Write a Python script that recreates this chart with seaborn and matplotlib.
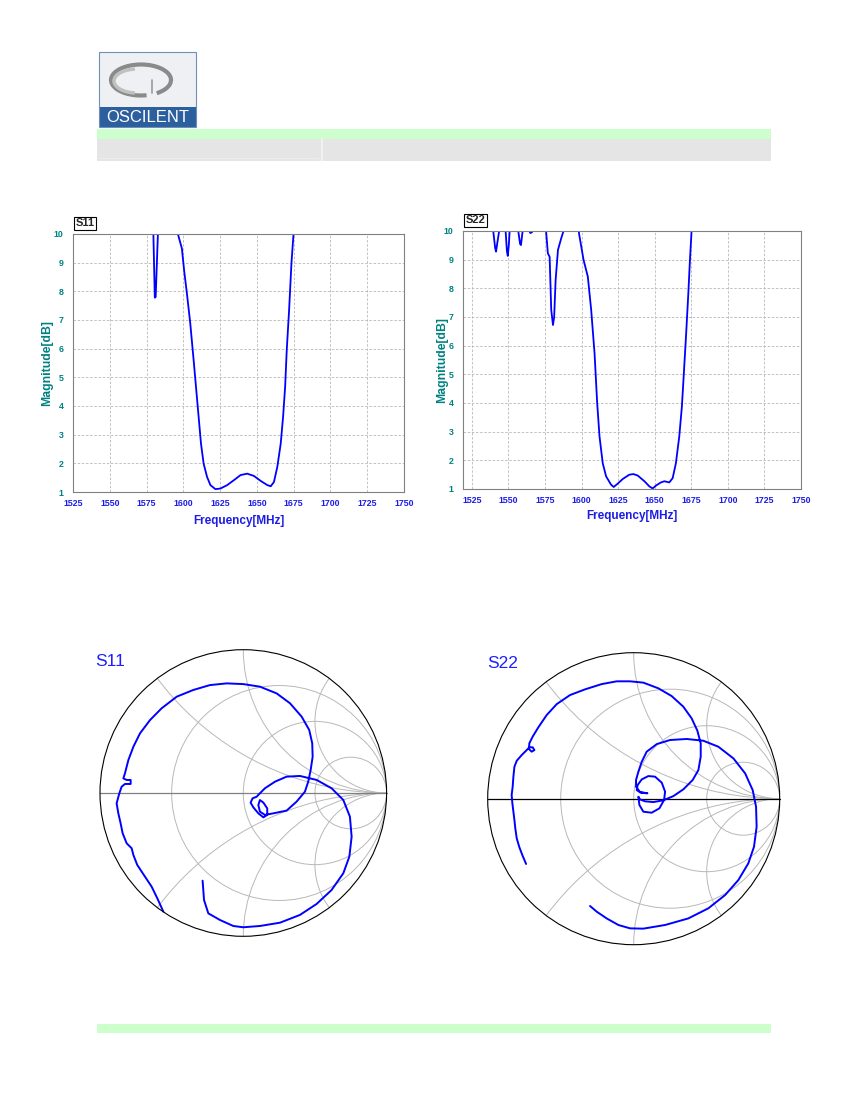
import numpy as np
import seaborn as sns
import matplotlib.pyplot as plt
from matplotlib import font_manager
from matplotlib.patches import Rectangle, Circle, Arc

# ---------------------- Data ------------------------
# return loss magnitude (dB) against frequency (MHz)
s11_freq = [1525, 1560, 1579.2, 1580.6, 1581.2, 1583.4, 1590, 1594.5,
            1596.3, 1599.0, 1600.6, 1602.4, 1604.7, 1607.0, 1608.6, 1610.4, 1612.0, 1613.8,
            1616.1, 1618.4, 1621.8, 1625.2, 1629.8, 1634.3, 1638.9, 1643.4, 1648.0, 1652.5,
            1657.1, 1659.4, 1661.6, 1663.9, 1666.2, 1667.8, 1669.2, 1670.3, 1671.9, 1673.5,
            1674.9, 1676.5, 1700, 1750]
s11_db = [12, 12, 11, 7.78, 7.8, 11, 12, 11,
          10.0, 9.5, 8.7, 7.94, 6.89, 5.6, 4.67, 3.62, 2.69, 1.99,
          1.53, 1.24, 1.10, 1.12, 1.24, 1.41, 1.59, 1.64, 1.56, 1.39,
          1.24, 1.2, 1.35, 1.88, 2.69, 3.62, 4.67, 5.96, 7.35, 8.99,
          10.0, 11.5, 12, 12]

s22_freq = [1519, 1530, 1539.0, 1541.0, 1541.6, 1542.5, 1544.0, 1546, 1548.0, 1549.0,
            1549.6, 1550.3, 1551.0, 1553, 1556.5, 1558.0, 1558.6, 1560.0, 1562, 1564.0,
            1565.0, 1566.0, 1567.0, 1570, 1575.3, 1577.0, 1578.2, 1579.3, 1580.5, 1581.3,
            1582.3, 1583.9, 1586.1, 1588.0, 1590, 1595, 1597.5, 1598.5, 1601.4, 1604.3,
            1606.6, 1608.9, 1610.7, 1612.3, 1614.5, 1616.8, 1620.2, 1622.0, 1624.8, 1628.2,
            1632.7, 1635.5, 1638.4, 1643.0, 1646.4, 1648.6, 1650.9, 1654.3, 1656.6, 1660.0,
            1662.3, 1664.5, 1666.8, 1668.6, 1669.8, 1671.4, 1673.0, 1674.1, 1675.2, 1676.5,
            1700, 1750]
s22_db = [12, 12, 10.3, 9.4, 9.28, 9.6, 10.1, 10.3, 10.1, 9.3,
          9.13, 9.5, 10.1, 10.3, 10.1, 9.55, 9.51, 10.1, 10.2, 10.05,
          9.93, 9.95, 10.05, 10.5, 10.3, 9.22, 9.1, 7.25, 6.72, 7.0,
          8.29, 9.34, 9.74, 10.05, 10.5, 11, 10.2, 9.85, 8.99, 8.41,
          7.25, 5.74, 4.0, 2.83, 1.9, 1.44, 1.15, 1.07, 1.19, 1.35,
          1.5, 1.52, 1.47, 1.27, 1.09, 1.02, 1.12, 1.23, 1.27, 1.23,
          1.38, 1.9, 2.83, 3.88, 4.92, 6.32, 7.83, 8.99, 10.0, 11.5,
          12, 12]

freq_ticks = list(range(1525, 1751, 25))
db_ticks = list(range(1, 11))

# reflection coefficient (real / imag) for the smith charts
s11_re = [-0.284, -0.274, -0.244, -0.163, -0.070, 0.000, 0.116, 0.256, 0.395, 0.512,
          0.616, 0.698, 0.740, 0.756, 0.744, 0.698, 0.616, 0.512, 0.395, 0.302,
          0.221, 0.151, 0.116, 0.093, 0.065, 0.051, 0.070, 0.105, 0.140, 0.167,
          0.167, 0.140, 0.116, 0.105, 0.116, 0.151, 0.209, 0.302, 0.372, 0.430,
          0.453, 0.470, 0.484, 0.481, 0.460, 0.407, 0.326, 0.233, 0.116, 0.000,
          -0.116, -0.233, -0.349, -0.465, -0.570, -0.651, -0.721, -0.767, -0.802, -0.826,
          -0.837, -0.814, -0.786, -0.786, -0.826, -0.849, -0.865, -0.884, -0.872, -0.856,
          -0.842, -0.814, -0.779, -0.767, -0.740, -0.686, -0.640, -0.600, -0.558]
s11_im = [-0.612, -0.747, -0.840, -0.886, -0.928, -0.937, -0.928, -0.905, -0.851, -0.774,
          -0.677, -0.560, -0.444, -0.305, -0.165, -0.049, 0.033, 0.091, 0.119, 0.114,
          0.079, 0.033, -0.002, -0.026, -0.037, -0.067, -0.100, -0.142, -0.170, -0.153,
          -0.107, -0.067, -0.049, -0.084, -0.130, -0.153, -0.142, -0.123, -0.060, 0.009,
          0.079, 0.160, 0.253, 0.347, 0.440, 0.533, 0.626, 0.695, 0.742, 0.760,
          0.765, 0.753, 0.719, 0.672, 0.591, 0.509, 0.416, 0.323, 0.230, 0.137,
          0.102, 0.091, 0.091, 0.063, 0.063, 0.044, -0.002, -0.072, -0.142, -0.212,
          -0.281, -0.351, -0.386, -0.433, -0.502, -0.584, -0.653, -0.735, -0.828]

s22_re = [-0.737, -0.760, -0.783, -0.801, -0.811, -0.817, -0.824, -0.831, -0.836, -0.829,
          -0.824, -0.817, -0.801, -0.767, -0.733, -0.715, -0.692, -0.680, -0.699, -0.717,
          -0.715, -0.692, -0.653, -0.596, -0.527, -0.436, -0.333, -0.219, -0.116, -0.025,
          0.066, 0.169, 0.260, 0.340, 0.397, 0.436, 0.459, 0.459, 0.443, 0.404,
          0.340, 0.272, 0.203, 0.135, 0.078, 0.043, 0.032, 0.039, 0.066, 0.123,
          0.176, 0.208, 0.215, 0.192, 0.146, 0.100, 0.055, 0.027, 0.021, 0.048,
          0.094, 0.043, 0.016, 0.016, 0.032, 0.055, 0.089, 0.158, 0.249, 0.363,
          0.477, 0.580, 0.683, 0.763, 0.815, 0.838, 0.842, 0.824, 0.785, 0.717,
          0.626, 0.511, 0.374, 0.215, 0.066, -0.025, -0.105, -0.185, -0.253, -0.299]
s22_im = [-0.447, -0.393, -0.333, -0.272, -0.203, -0.146, -0.089, -0.032, 0.025, 0.082,
          0.151, 0.219, 0.260, 0.299, 0.333, 0.352, 0.352, 0.333, 0.322, 0.340,
          0.379, 0.425, 0.489, 0.573, 0.648, 0.710, 0.749, 0.785, 0.804, 0.804,
          0.795, 0.756, 0.703, 0.630, 0.550, 0.466, 0.379, 0.288, 0.196, 0.128,
          0.064, 0.018, -0.011, -0.023, -0.018, -0.005, 0.014, -0.043, -0.089, -0.096,
          -0.066, -0.009, 0.048, 0.110, 0.151, 0.155, 0.132, 0.094, 0.059, 0.041,
          0.037, 0.046, 0.082, 0.128, 0.185, 0.253, 0.322, 0.374, 0.402, 0.409,
          0.397, 0.356, 0.276, 0.174, 0.059, -0.055, -0.192, -0.329, -0.443, -0.557,
          -0.660, -0.751, -0.820, -0.865, -0.890, -0.888, -0.865, -0.820, -0.774, -0.735]

# smith grid: constant resistance circles, constant reactance arcs
smith_r = [1 / 3, 1, 3]
smith_x = [0.5, 1, 2]

# ---------------------- Style -----------------------
sns.set_style("white")
plt.rcParams["font.family"] = ["Liberation Sans", "DejaVu Sans"]

LINE_BLUE = "#0000ff"
TICK_BLUE = "#1c1ce6"
TEAL = "#008080"
GRID = "#b8b8b8"

installed = {f.name for f in font_manager.fontManager.ttflist}
LOGO_FONT = "Liberation Sans Narrow" if "Liberation Sans Narrow" in installed else "Liberation Sans"
LOGO_SIZE = 14 if LOGO_FONT == "Liberation Sans Narrow" else 12

W, H = 850, 1100
fig = plt.figure(figsize=(W / 100, H / 100), dpi=100)


def px_axes(left, top, right, bottom):
    return fig.add_axes([left / W, 1 - bottom / H, (right - left) / W, (bottom - top) / H])


# ---------------------- Page header / footer -----------------------
page = fig.add_axes([0, 0, 1, 1])
page.set_zorder(-1)
page.set_xlim(0, W)
page.set_ylim(H, 0)
page.axis("off")

# logo
page.add_patch(Rectangle((99, 52), 97, 56, fc="#eef0f3", ec="none"))
page.add_patch(Rectangle((99, 107), 97, 20, fc="#2c5f9e", ec="none"))
page.add_patch(Rectangle((99, 52), 97, 75, fill=False, ec="#6f8fb8", lw=0.8))
page.add_patch(Arc((141, 80), 60, 31, theta1=70, theta2=400, color="#8a8a8a", lw=3))
page.add_patch(Arc((137, 81), 46, 24, theta1=100, theta2=260, color="#c0c0c0", lw=2.5))
page.plot([152, 152], [80, 93], color="#9a9a9a", lw=1.2)
page.text(147.5, 117.5, "OSCILENT", color="white", fontsize=LOGO_SIZE, family=LOGO_FONT,
          ha="center", va="center")

# header bars
page.add_patch(Rectangle((97, 129), 674, 10, fc="#ccffcc", ec="none"))
page.add_patch(Rectangle((97, 139), 674, 22, fc="#e5e5e5", ec="none"))
page.plot([322, 322], [139, 161], color="#f4f4f4", lw=1.2)
page.plot([99, 318], [158, 158], color="#ececec", lw=0.8)

# footer bar
page.add_patch(Rectangle((97, 1024), 674, 9, fc="#ccffcc", ec="none"))


# ---------------------- Magnitude plots -----------------------
def plot_magnitude(ax, freq, db, name, xlim, ylab_x, xlab_y):
    sns.lineplot(x=freq, y=db, ax=ax, color=LINE_BLUE, linewidth=1.3, sort=False, estimator=None)
    ax.set_xlim(*xlim)
    ax.set_ylim(1, 10)
    ax.set_xticks(freq_ticks)
    ax.set_yticks(db_ticks)
    ax.grid(True, color=GRID, ls=(0, (3, 2)), lw=0.6)
    for s in ax.spines.values():
        s.set_color("#808080")
        s.set_linewidth(0.8)
    ax.tick_params(axis="both", length=0, labelsize=6.3)
    ax.tick_params(axis="x", pad=5, labelcolor=TICK_BLUE)
    ax.tick_params(axis="y", pad=7, labelcolor=TEAL)
    for lab in ax.get_xticklabels() + ax.get_yticklabels():
        lab.set_fontweight("bold")
    ax.set_xlabel("Frequency[MHz]", color=TICK_BLUE, fontsize=8.5, fontweight="bold")
    ax.set_ylabel("Magnitude[dB]", color=TEAL, fontsize=8.8, fontweight="bold")
    ax.xaxis.set_label_coords(0.5, xlab_y)
    ax.yaxis.set_label_coords(ylab_x, 0.5)
    ax.text(0.008, 1.022, name, transform=ax.transAxes, fontsize=8, fontweight="bold",
            va="bottom", ha="left",
            bbox=dict(facecolor="white", edgecolor="black", boxstyle="square,pad=0.12", lw=0.8))


ax1 = px_axes(73, 234, 404, 492)
plot_magnitude(ax1, s11_freq, s11_db, "S11", (1525, 1750), -0.06, -0.088)

ax2 = px_axes(463, 231, 801, 489)
plot_magnitude(ax2, s22_freq, s22_db, "S22", (1519, 1750), -0.045, -0.08)


# ---------------------- Smith charts -----------------------
def plot_smith(cx, cy, radius, re, im, axis_color):
    pad = 1.04
    half = radius * pad
    ax = px_axes(cx - half, cy - half, cx + half, cy + half)
    outer = Circle((0, 0), 1, fill=False, ec="black", lw=0.8, zorder=3)
    ax.add_patch(outer)
    for r in smith_r:
        c = Circle((r / (1 + r), 0), 1 / (1 + r), fill=False, ec=GRID, lw=0.7)
        ax.add_patch(c)
        c.set_clip_path(outer)
    for x in smith_x:
        for sgn in (1, -1):
            c = Circle((1, sgn / x), 1 / x, fill=False, ec=GRID, lw=0.7)
            ax.add_patch(c)
            c.set_clip_path(outer)
    ax.plot([-1, 1], [0, 0], color=axis_color, lw=0.9)
    sns.lineplot(x=re, y=im, ax=ax, color=LINE_BLUE, linewidth=1.4, sort=False, estimator=None)
    ax.set_xlim(-pad, pad)
    ax.set_ylim(-pad, pad)
    ax.axis("off")
    return ax


plot_smith(243.3, 793, 143.3, s11_re, s11_im, "#808080")
plot_smith(633.7, 798.7, 146, s22_re, s22_im, "black")

fig.text(95 / W, 1 - 666 / H, "S11", color="#1e1eff", fontsize=12.5, ha="left", va="baseline")
fig.text(487 / W, 1 - 668.5 / H, "S22", color="#1e1eff", fontsize=12.5, ha="left", va="baseline")

fig.savefig("out.png", dpi=100)
